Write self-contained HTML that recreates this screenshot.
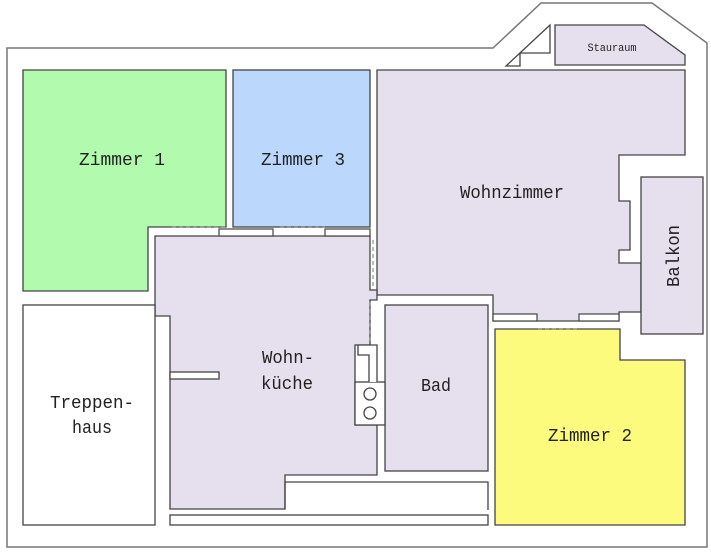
<!DOCTYPE html>
<html><head><meta charset="utf-8"><style>
html,body{margin:0;padding:0;background:#fff;}
svg{display:block}
text{font-family:"Liberation Mono",monospace;fill:#222;}
</style></head><body>
<svg width="711" height="552" viewBox="0 0 711 552" xmlns="http://www.w3.org/2000/svg">
<rect width="711" height="552" fill="#fff"/>
<!-- outer boundary -->
<polygon points="7,48 493,48 541,3 652,3 707,43 707,547 7,547" fill="#fff" stroke="#777" stroke-width="1.5"/>
<g stroke="#444" stroke-width="1.3">
<!-- Zimmer 1 -->
<polygon points="23,70 226,70 226,227 148,227 148,291 23,291" fill="#b2fbae"/>
<!-- Zimmer 3 -->
<rect x="233" y="70" width="137" height="157" fill="#bbd7fb"/>
<!-- Wohnzimmer -->
<polygon points="377,70 685,70 685,155 619,155 619,201 630,201 630,250 619,250 619,263 641,263 641,312 619,312 619,321 493,321 493,295 377,295" fill="#e6e0ee"/>
<!-- Balkon -->
<rect x="641" y="177" width="62" height="157" fill="#e6e0ee"/>
<!-- Stauraum -->
<polygon points="555,25 644,25 685,55 685,65 555,65" fill="#e6e0ee"/>
<polygon points="506,66 550,25 550,53 520,53 520,66" fill="#fff"/>
<!-- Wohnkueche -->
<polygon points="155,236 370,236 370,290 377,290 377,300 370,300 370,345 355,345 355,425 377,425 377,475 285,475 285,509 170,509 170,316 155,316" fill="#e6e0ee"/>
<!-- Bad -->
<rect x="385" y="305" width="103" height="166" fill="#e6e0ee"/>
<!-- Zimmer 2 -->
<polygon points="495,329 620,329 620,360 685,360 685,525 495,525" fill="#fdfb7d"/>
<!-- Treppenhaus -->
<rect x="23" y="305" width="132" height="220" fill="#fff"/>
<!-- corridor walls -->
<rect x="170" y="515" width="318" height="10" fill="#fff"/>
<polyline points="285,509 285,482 488,482 488,510" fill="none"/>
<!-- chimney -->
<rect x="355" y="382" width="30" height="43" fill="#fff"/>
<polyline points="369,382 369,355 358,355 358,345 377,345 377,382" fill="#fff"/>
<circle cx="370" cy="394" r="6" fill="#fff"/>
<circle cx="370" cy="413" r="6" fill="#fff"/>
<!-- stub wall -->
<rect x="170" y="372" width="49" height="7" fill="#fff"/>
</g>
<!-- dashed openings -->
<g stroke="#777" stroke-width="1" stroke-dasharray="4,3" fill="none">
<line x1="172" y1="227" x2="226" y2="227"/>
<line x1="280" y1="227" x2="325" y2="227"/>
<line x1="373" y1="240" x2="373" y2="290"/>
<line x1="370" y1="302" x2="370" y2="343"/>
<line x1="538" y1="329" x2="578" y2="329"/>
</g>
<!-- walls between Zimmer and Kueche -->
<g fill="#fff" stroke="#444" stroke-width="1.2">
<rect x="219" y="229" width="54" height="7"/>
<rect x="325" y="229" width="45" height="7"/>
<rect x="493" y="314" width="44" height="7"/>
<rect x="579" y="314" width="40" height="7"/>
</g>
<g font-size="18" text-anchor="middle">
<text x="122" y="165" textLength="86" lengthAdjust="spacingAndGlyphs">Zimmer 1</text>
<text x="303" y="165" textLength="84" lengthAdjust="spacingAndGlyphs">Zimmer 3</text>
<text x="512" y="198" textLength="104" lengthAdjust="spacingAndGlyphs">Wohnzimmer</text>
<text x="288" y="363" textLength="52" lengthAdjust="spacingAndGlyphs">Wohn-</text>
<text x="287" y="389" textLength="52" lengthAdjust="spacingAndGlyphs">küche</text>
<text x="436" y="391" textLength="30" lengthAdjust="spacingAndGlyphs">Bad</text>
<text x="590" y="441" textLength="84" lengthAdjust="spacingAndGlyphs">Zimmer 2</text>
<text x="92" y="408" textLength="84" lengthAdjust="spacingAndGlyphs">Treppen-</text>
<text x="92" y="433" textLength="40" lengthAdjust="spacingAndGlyphs">haus</text>
<text x="0" y="0" transform="translate(679,256) rotate(-90)" textLength="62" lengthAdjust="spacingAndGlyphs">Balkon</text>
</g>
<text x="612" y="51" font-size="11" text-anchor="middle" textLength="49" lengthAdjust="spacingAndGlyphs">Stauraum</text>
</svg>
</body></html>
